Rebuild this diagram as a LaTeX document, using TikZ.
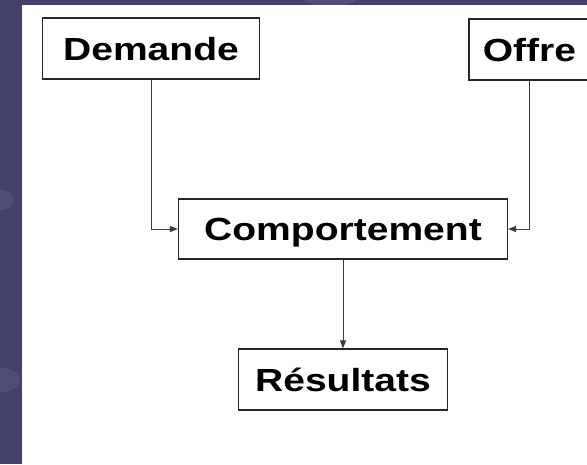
\documentclass[tikz,border=0pt]{standalone}
\usepackage{fontspec}
\newfontfamily\lbl{Liberation Sans}[FakeStretch=1.22]
\usetikzlibrary{arrows.meta}
\definecolor{slidebg}{RGB}{69,66,106}
\definecolor{bubble}{RGB}{80,77,120}
\definecolor{wire}{RGB}{60,60,60}
\tikzset{
  box/.style={draw=black!85, line width=1.2pt, fill=white, inner sep=0pt,
    font=\lbl\bfseries\fontsize{32}{36}\selectfont, text height=23pt, text depth=0pt},
  link/.style={draw=wire, line width=0.9pt, -{Triangle[length=8pt,width=6pt]}}
}
\begin{document}
\begin{tikzpicture}[x=1pt,y=-1pt]
\useasboundingbox (0,0) rectangle (587,464);
\fill[slidebg] (0,0) rectangle (587,464);
\fill[bubble] (0,200) ellipse (14 and 10);
\fill[bubble] (0,380) ellipse (20 and 12);
\fill[bubble] (330,0) ellipse (25 and 6);
\fill[white] (22,5) rectangle (587,464);
\node[box, minimum width=217pt, minimum height=61pt] (dem) at (151,48.5) {Demande};
\node[box, minimum width=121pt, minimum height=61pt] (off) at (529.5,49.5) {Offre};
\node[box, minimum width=329pt, minimum height=60pt] (comp) at (343,229) {Comportement};
\node[box, minimum width=209pt, minimum height=61pt] (res) at (343,379.5) {Résultats};
\draw[link] (dem.south) |- (comp.west);
\draw[link] (off.south) |- (comp.east);
\draw[link] (comp.south) -- (res.north);
\end{tikzpicture}
\end{document}
